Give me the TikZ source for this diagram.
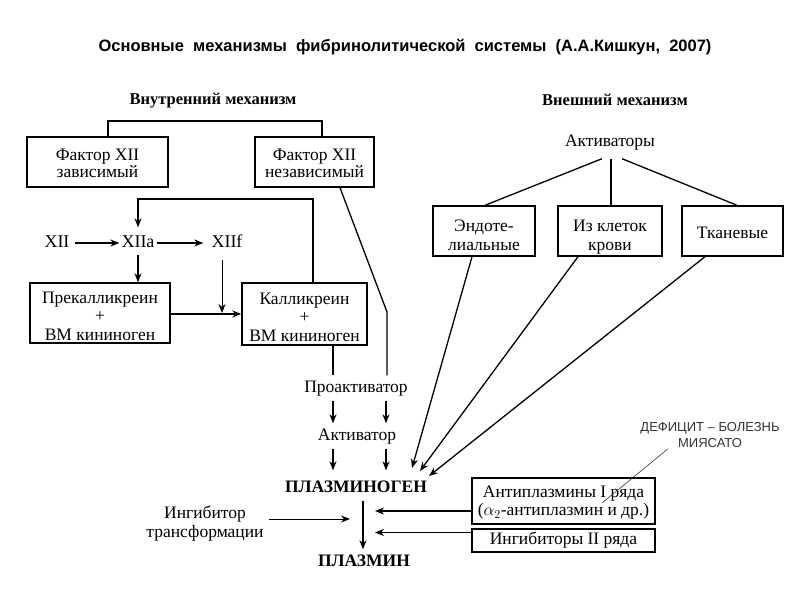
\documentclass[tikz,border=0pt]{standalone}
\usepackage{fontspec}
\setmainfont{Liberation Serif}
\newfontfamily\sansf{Liberation Sans}
\usetikzlibrary{arrows.meta}
\newcommand{\topstrut}[1]{\rule{0pt}{#1}}
\begin{document}
\begin{tikzpicture}[x=1pt,y=-1pt,
  box/.style={draw, line width=1.4pt, inner sep=0pt, align=center, font=\fontsize{17.5}{18.5}\selectfont},
  lbl/.style={inner xsep=2pt, inner ysep=4pt, text height=12pt, text depth=3pt, align=center, font=\fontsize{17.5}{18.5}\selectfont},
  hdr/.style={inner sep=2pt, font=\bfseries\fontsize{16.5}{18}\selectfont},
  ln/.style={line width=1.3pt},
  arr/.style={ln, -{Stealth[length=9pt,width=7pt]}}
]
\useasboundingbox[fill=white] (0,0) rectangle (800,600);

% title
\node[font=\sansf\bfseries\fontsize{16.5}{18}\selectfont, inner sep=0pt] (title) at (405,47)
  {Основные\ \ механизмы\ \ фибринолитической\ \ системы\ \ (А.А.Кишкун,\ \ 2007)};

% internal mechanism
\node[hdr] (hin) at (213,101) {Внутренний механизм};
\node[box, minimum width=141pt, minimum height=50pt, font=\fontsize{17.5}{17}\selectfont] (b1) at (97.5,162) {\topstrut{15pt}Фактор XII\\зависимый};
\node[box, minimum width=119pt, minimum height=50pt, font=\fontsize{17.5}{17}\selectfont] (b2) at (314.5,162) {\topstrut{15pt}Фактор XII\\независимый};

\node[lbl, font=\fontsize{18}{18}\selectfont] (xii) at (57,243) {XII};
\node[lbl, font=\fontsize{18}{18}\selectfont] (xiia) at (138,243) {XIIa};
\node[lbl, font=\fontsize{18}{18}\selectfont] (xiif) at (227,243) {XIIf};

\node[box, minimum width=140pt, minimum height=60pt] (pre) at (100,313) {\topstrut{18pt}Прекалликреин\\+\\ВМ кининоген};
\node[box, minimum width=125pt, minimum height=62pt] (kal) at (304.5,314) {\topstrut{18pt}Калликреин\\+\\ВМ кининоген};

\node[lbl, inner ysep=5pt] (pro) at (356,388) {Проактиватор};
\node[lbl, inner ysep=5pt] (akt) at (357,436) {Активатор};
\node[lbl, inner ysep=5pt, font=\bfseries\fontsize{17.5}{18}\selectfont] (plg) at (356,488) {ПЛАЗМИНОГЕН};
\node[lbl, inner ysep=5pt, font=\bfseries\fontsize{17.5}{18}\selectfont] (plm) at (364,562) {ПЛАЗМИН};
\node[inner xsep=2pt, inner ysep=2pt, align=center, font=\fontsize{17.5}{19}\selectfont] (inh) at (205,524) {Ингибитор\\трансформации};

% external mechanism
\node[hdr] (hex) at (615,100) {Внешний механизм};
\node[lbl, inner ysep=9pt] (akv) at (610,142) {Активаторы};
\node[box, minimum width=102pt, minimum height=50pt] (endo) at (484,231) {\topstrut{20pt}Эндоте-\\лиальные};
\node[box, minimum width=104pt, minimum height=50pt] (kl) at (610,231) {\topstrut{24pt}Из клеток\\крови};
\node[box, minimum width=101pt, minimum height=50pt] (tk) at (732.5,231) {\topstrut{15pt}Тканевые};

\node[box, minimum width=183pt, minimum height=46pt] (ap) at (563.5,501) {\topstrut{15pt}Антиплазмины I ряда\\($\alpha_2$-антиплазмин и др.)};
\node[box, minimum width=183pt, minimum height=23pt] (ib) at (563.5,540.5) {Ингибиторы II ряда};

\node[font=\sansf\fontsize{13}{16}\selectfont, text=black!80, align=center, inner sep=1pt] (def) at (710,435) {ДЕФИЦИТ – БОЛЕЗНЬ\\МИЯСАТО};

% helper coordinates
\coordinate (cA) at (108,121);
\coordinate (cB) at (322,121);
\coordinate (c340) at (340,0);
\coordinate (bend) at (387,312);
\coordinate (c333) at (333,0);
\coordinate (c386) at (386,0);
\coordinate (c313) at (313,199);
\coordinate (c222) at (222,0);
\coordinate (jn) at (222,313);
\coordinate (c363) at (363,0);
\coordinate (c350) at (350,0);
\coordinate (c375) at (375,0);
\coordinate (t1) at (412,468);
\coordinate (t2) at (420,471);
\coordinate (t3) at (429,476);
\coordinate (c472) at (472,0);
\coordinate (c578) at (578,0);
\coordinate (c705) at (705,0);
\coordinate (c602) at (602,0);
\coordinate (c611) at (611,0);
\coordinate (c622) at (622,0);
\coordinate (c485) at (485,0);
\coordinate (c737) at (737,0);
\coordinate (dtip) at (602,503);
\coordinate (c668) at (668,0);

% connectors internal
\draw[ln] (b1.north -| cA) -- (cA) -- (cB) -- (b2.north -| cB);
\draw[ln] (b2.south -| c340) -- (bend) -- (pro.north -| bend);
\draw[arr, shorten <=3pt] (xii) -- (xiia);
\draw[arr, shorten >=6pt] (xiia) -- (xiif);
\draw[arr] (xiia) -- (pre.north -| xiia);
\draw[arr] (kal.north -| c313) -- (c313) -| ([yshift=4pt]xiia.north);
\draw[arr, line width=1pt, shorten <=5pt] (xiif.south -| c222) -- (jn);
\draw[arr] (pre.east |- kal.west) -- (kal.west);
\draw[ln] (kal.south -| c333) -- (pro.north -| c333);
\draw[arr] (pro.south -| c333) -- (akt.north -| c333);
\draw[arr] (pro.south -| c386) -- (akt.north -| c386);
\draw[arr, shorten >=5pt] (akt.south -| c333) -- (plg.north -| c333);
\draw[arr, shorten >=5pt] (akt.south -| c386) -- (plg.north -| c386);
\draw[arr] (plg.south -| c363) -- (plm.north -| c363);
\draw[arr, line width=1pt, shorten <=3pt] ([yshift=5pt]inh.east) -- ([yshift=5pt]inh.east -| c350);

% connectors external
\draw[ln] (akv.south -| c602) -- (endo.north -| c485);
\draw[ln] (akv.south -| c611) -- (kl.north -| c611);
\draw[ln] (akv.south -| c622) -- (tk.north -| c737);
\draw[arr] (endo.south -| c472) -- (t1);
\draw[arr] (kl.south -| c578) -- (t2);
\draw[arr] (tk.south -| c705) -- (t3);
\draw[arr] ([yshift=-10pt]ap.west) -- ([yshift=-10pt]ap.west -| c375);
\draw[arr] ([yshift=8pt]ib.west) -- ([yshift=8pt]ib.west -| c375);
\draw[line width=0.6pt, black!80] (def.south -| c668) -- (dtip);
\end{tikzpicture}
\end{document}
